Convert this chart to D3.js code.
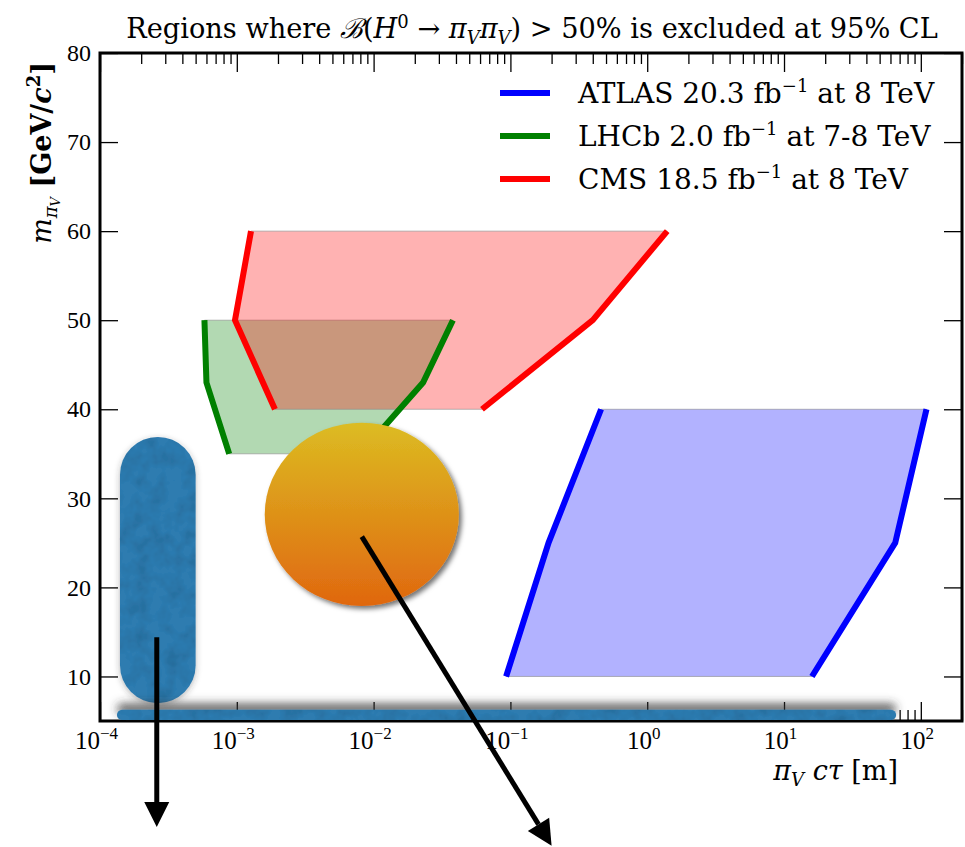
<!DOCTYPE html>
<html lang="en">
<head>
<meta charset="UTF-8">
<title>Exclusion regions</title>
<style>
  body { margin: 0; background: #fff; }
  svg text { fill: #000; }
</style>
</head>
<body>
<script src="https://cdn.jsdelivr.net/npm/d3@7/dist/d3.min.js"></script>
<script>
const width = 965, height = 847

// exclusion bands: mass (GeV) and c*tau boundaries (m)
const atlasMass = [10, 25, 40]
const atlasLow = [0.093, 0.19, 0.46]
const atlasHigh = [16, 65, 110]
const lhcbMass = [35, 43, 50]
const lhcbLow = [8.8e-4, 6.0e-4, 5.8e-4]
const lhcbHigh = [0.008, 0.023, 0.038]
const cmsMass = [40, 50, 60]
const cmsLow = [1.9e-3, 9.7e-4, 1.27e-3]
const cmsHigh = [0.062, 0.40, 1.4]

const xMajor = [1e-4, 1e-3, 1e-2, 1e-1, 1, 10, 100]
const xExp = ["−4", "−3", "−2", "−1", "0", "1", "2"]
const yTicks = [10, 20, 30, 40, 50, 60, 70, 80]

const legendNames = ["ATLAS 20.3 fb", "LHCb 2.0 fb", "CMS 18.5 fb"]
const legendTail = [" at 8 TeV", " at 7-8 TeV", " at 8 TeV"]
const colors = ["#0000ff", "#008000", "#ff0000"]

// annotation shapes, in data units (ctau, mass)
const pillBox = [[1.4e-4, 7.0], [5.0e-4, 36.9]]
const barBox = [[1.33e-4, 5.1], [66, 6.25]]
const blobBox = [[1.6e-3, 17.9], [0.042, 38.5]]
const arrows = [[[2.6e-4, 14.4], [2.6e-4, -6.9]], [[8.2e-3, 25.7], [0.2, -9.0]]]

const x = d3.scaleLog().domain([1e-4, 200]).range([100, 962])
const y = d3.scaleLinear().domain([5, 80]).range([721, 53])

const numFont = "'Liberation Serif', 'DejaVu Serif', serif"
const textFont = "'DejaVu Serif', serif"

const svg = d3.select("body").append("svg")
  .attr("width", width).attr("height", height)

const defs = svg.append("defs")
const grad = defs.append("linearGradient").attr("id", "orange")
  .attr("x1", 0).attr("y1", 0).attr("x2", 0).attr("y2", 1)
grad.append("stop").attr("offset", "0%").attr("stop-color", "#dcbc22")
grad.append("stop").attr("offset", "100%").attr("stop-color", "#e0670f")

const sh = defs.append("filter").attr("id", "shadow")
  .attr("x", "-20%").attr("y", "-20%").attr("width", "140%").attr("height", "140%")
sh.append("feDropShadow").attr("dx", 3).attr("dy", 3).attr("stdDeviation", 2.5)
  .attr("flood-color", "#000").attr("flood-opacity", 0.55)

function grainFilter(id, dy, blur, op) {
  const f = defs.append("filter").attr("id", id)
    .attr("x", "-10%").attr("y", "-300%").attr("width", "120%").attr("height", "700%")
  f.append("feGaussianBlur").attr("in", "SourceAlpha").attr("stdDeviation", blur).attr("result", "b")
  f.append("feOffset").attr("in", "b").attr("dy", dy).attr("result", "bo")
  f.append("feFlood").attr("flood-color", "#333").attr("flood-opacity", op).attr("result", "fc")
  f.append("feComposite").attr("in", "fc").attr("in2", "bo").attr("operator", "in").attr("result", "shadow")
  f.append("feTurbulence").attr("type", "fractalNoise").attr("baseFrequency", 0.06)
    .attr("numOctaves", 3).attr("seed", 4).attr("result", "n")
  f.append("feColorMatrix").attr("in", "n").attr("type", "matrix")
    .attr("values", "0 0 0 0 0  0 0 0 0 0  0 0 0 0 0  0 0 0 -0.5 0.3").attr("result", "na")
  f.append("feComposite").attr("in", "na").attr("in2", "SourceGraphic").attr("operator", "in").attr("result", "grain")
  const m = f.append("feMerge")
  m.append("feMergeNode").attr("in", "shadow")
  m.append("feMergeNode").attr("in", "SourceGraphic")
  m.append("feMergeNode").attr("in", "grain")
}
grainFilter("pillfx", 2, 3, 0.35)
grainFilter("barfx", -6, 5, 0.8)

// bands
const bands = [
  [atlasMass, atlasLow, atlasHigh],
  [lhcbMass, lhcbLow, lhcbHigh],
  [cmsMass, cmsLow, cmsHigh]
]

const plot = svg.append("g")
bands.forEach((b, k) => {
  const [mass, lo, hi] = b
  const pts = mass.map((m, i) => [x(lo[i]), y(m)])
    .concat(mass.map((m, i) => [x(hi[i]), y(m)]).reverse())
  plot.append("path")
    .attr("d", "M" + pts.join("L") + "Z")
    .attr("fill", colors[k]).attr("fill-opacity", 0.3)
    .attr("stroke", "#888").attr("stroke-opacity", 0.6).attr("stroke-width", 1)
})
const line = d3.line().x(d => x(d[0])).y(d => y(d[1]))
bands.forEach((b, k) => {
  const [mass, lo, hi] = b
  ;[lo, hi].forEach(side => {
    plot.append("path")
      .attr("d", line(mass.map((m, i) => [side[i], m])))
      .attr("fill", "none").attr("stroke", colors[k]).attr("stroke-width", 6)
  })
})

// axes, ticks pointing inward
const xMinor = []
for (let e = -4; e <= 2; e++) for (let j = 2; j <= 9; j++) {
  const v = j * Math.pow(10, e)
  if (v <= 200) xMinor.push(v)
}
function tickStyle(g) {
  g.select(".domain").remove()
  g.selectAll(".tick line").attr("stroke", "#000").attr("stroke-width", 1.3)
}
svg.append("g").attr("transform", "translate(0,721)")
  .call(d3.axisBottom(x).tickValues(xMinor).tickSize(-11).tickFormat("")).call(tickStyle)
svg.append("g").attr("transform", "translate(0,53)")
  .call(d3.axisTop(x).tickValues(xMinor).tickSize(-11).tickFormat("")).call(tickStyle)
svg.append("g").attr("transform", "translate(0,53)")
  .call(d3.axisTop(x).tickValues(xMajor).tickSize(-19).tickFormat("")).call(tickStyle)
svg.append("g").attr("transform", "translate(962,0)")
  .call(d3.axisRight(y).tickValues(yTicks).tickSize(-18).tickFormat("")).call(tickStyle)

const xb = svg.append("g").attr("transform", "translate(0,721)")
  .call(d3.axisBottom(x).tickValues(xMajor).tickSize(-19).tickPadding(28).tickFormat(""))
  .call(tickStyle)
xb.selectAll(".tick text").each(function (d, i) {
  const t = d3.select(this).attr("font-size", 25).style("font-family", numFont)
    .attr("dy", 0).attr("dx", -4)
  t.append("tspan").text("10")
  t.append("tspan").attr("font-size", 17).attr("dy", -10).text(xExp[i])
})

svg.append("g").attr("transform", "translate(100,0)")
  .call(d3.axisLeft(y).tickValues(yTicks).tickSize(-18).tickPadding(9))
  .call(tickStyle)
  .selectAll(".tick text").attr("font-size", 24).style("font-family", numFont)

svg.append("rect").attr("x", 100).attr("y", 53).attr("width", 862).attr("height", 668)
  .attr("fill", "none").attr("stroke", "#000").attr("stroke-width", 3)

// title
const title = svg.append("text").attr("x", 532).attr("y", 38)
  .style("font-family", textFont)
  .attr("text-anchor", "middle").attr("font-size", 27.2)
title.append("tspan").text("Regions where ")
title.append("tspan").attr("font-style", "italic").text("ℬ")
title.append("tspan").text("(")
title.append("tspan").attr("font-style", "italic").text("H")
title.append("tspan").attr("font-size", 18).attr("dy", -10).text("0")
title.append("tspan").attr("dy", 10).text(" → ")
title.append("tspan").attr("font-style", "italic").text("π")
title.append("tspan").attr("font-style", "italic").attr("font-size", 18).attr("dy", 6).text("V")
title.append("tspan").attr("font-style", "italic").attr("dy", -6).text("π")
title.append("tspan").attr("font-style", "italic").attr("font-size", 18).attr("dy", 6).text("V")
title.append("tspan").attr("dy", -6).text(") > 50% is excluded at 95% CL")

// legend
const leg = svg.append("g")
legendNames.forEach((name, i) => {
  const yy = 93 + i * 43
  leg.append("line").attr("x1", 500).attr("x2", 550).attr("y1", yy).attr("y2", yy)
    .attr("stroke", colors[i]).attr("stroke-width", 6)
  const t = leg.append("text").attr("x", 578).attr("y", yy + 10).attr("font-size", 28)
    .style("font-family", textFont)
  t.append("tspan").text(name)
  t.append("tspan").attr("font-size", 18).attr("dy", -11).text("−1")
  t.append("tspan").attr("dy", 11).text(legendTail[i])
})

// axis labels
const xl = svg.append("text").attr("x", 898).attr("y", 780)
  .style("font-family", textFont)
  .attr("text-anchor", "end").attr("font-size", 27)
xl.append("tspan").attr("font-style", "italic").text("π")
xl.append("tspan").attr("font-style", "italic").attr("font-size", 18).attr("dy", 6).text("V")
xl.append("tspan").attr("dy", -6).attr("font-style", "italic").text(" cτ ")
xl.append("tspan").text("[m]")

const yl = svg.append("text").attr("transform", "translate(51,62) rotate(-90)")
  .style("font-family", textFont)
  .attr("text-anchor", "end").attr("font-size", 27)
yl.append("tspan").attr("font-style", "italic").text("m")
yl.append("tspan").attr("font-style", "italic").attr("font-size", 18).attr("dy", 6).text("π")
yl.append("tspan").attr("font-style", "italic").attr("font-size", 13).attr("dy", 3).text("V")
yl.append("tspan").attr("dy", -9).attr("font-weight", "bold").text(" [GeV/")
yl.append("tspan").attr("font-weight", "bold").attr("font-style", "italic").text("c")
yl.append("tspan").attr("font-weight", "bold").attr("font-size", 18).attr("dy", -11).text("2")
yl.append("tspan").attr("font-weight", "bold").attr("dy", 11).text("]")

// annotation overlays
const over = svg.append("g")
function box(b) {
  const x0 = x(b[0][0]), x1 = x(b[1][0]), y0 = y(b[1][1]), y1 = y(b[0][1])
  return { x: x0, y: y0, w: x1 - x0, h: y1 - y0 }
}
const p = box(pillBox)
over.append("rect").attr("x", p.x).attr("y", p.y).attr("width", p.w).attr("height", p.h)
  .attr("rx", p.w / 2).attr("fill", "#2e7bb0").attr("filter", "url(#pillfx)")
const bb = box(barBox)
over.append("rect").attr("x", bb.x).attr("y", bb.y).attr("width", bb.w).attr("height", bb.h)
  .attr("rx", bb.h / 2).attr("fill", "#2e7bb0").attr("filter", "url(#barfx)")
const c = box(blobBox)
over.append("ellipse").attr("cx", c.x + c.w / 2).attr("cy", c.y + c.h / 2)
  .attr("rx", c.w / 2).attr("ry", c.h / 2)
  .attr("fill", "url(#orange)").attr("filter", "url(#shadow)")

arrows.forEach(a => {
  const x0 = x(a[0][0]), y0 = y(a[0][1]), x1 = x(a[1][0]), y1 = y(a[1][1])
  const len = Math.hypot(x1 - x0, y1 - y0), ux = (x1 - x0) / len, uy = (y1 - y0) / len
  const hl = 25, hw = 12.5
  const bx = x1 - ux * hl, by = y1 - uy * hl
  over.append("line").attr("x1", x0).attr("y1", y0).attr("x2", bx).attr("y2", by)
    .attr("stroke", "#000").attr("stroke-width", 5)
  over.append("path")
    .attr("d", `M${x1},${y1}L${bx - uy * hw},${by + ux * hw}L${bx + uy * hw},${by - ux * hw}Z`)
    .attr("fill", "#000")
})
</script>
</body>
</html>
